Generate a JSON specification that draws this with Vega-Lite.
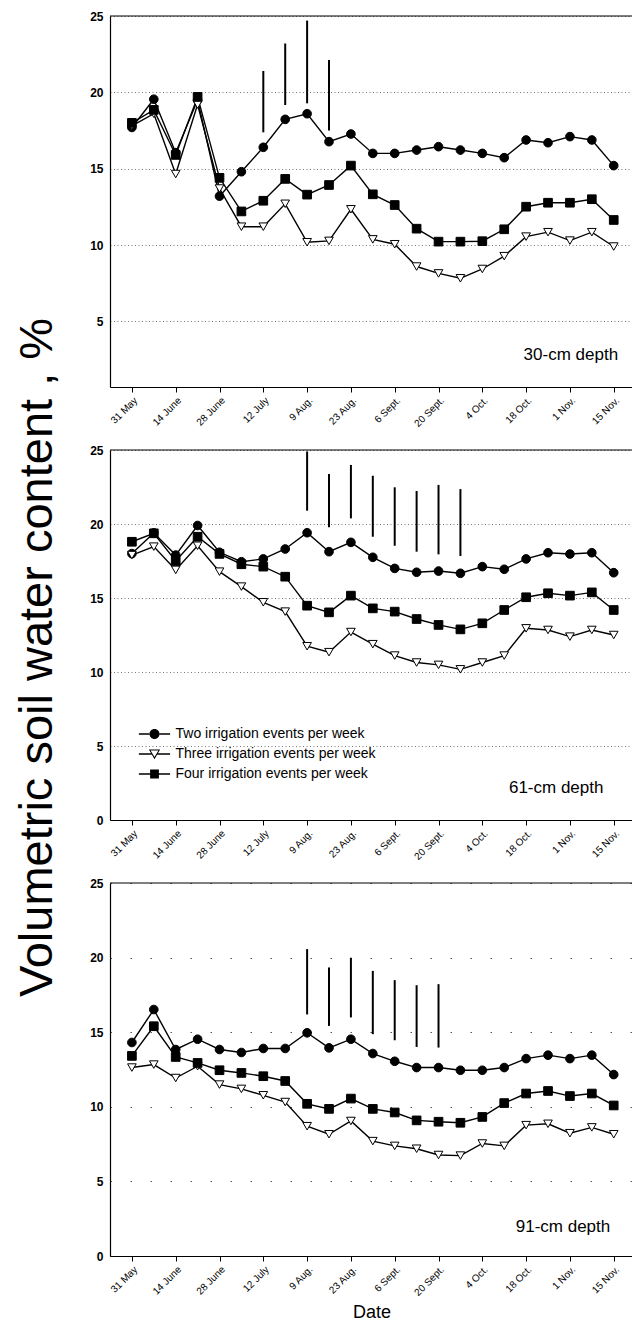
{
  "$schema": "https://vega.github.io/schema/vega-lite/v6.json",
  "padding": {"left": 12, "top": 10, "right": 0, "bottom": 0},
  "bounds": "flush",
  "spacing": 63,
  "config": {
    "font": "Liberation Sans",
    "view": {"stroke": null},
    "axis": {"domainColor": "black", "domainWidth": 1.2, "tickColor": "black", "labelColor": "black", "titleColor": "black", "labelFont": "Liberation Sans", "titleFont": "Liberation Sans", "titleFontWeight": "normal"},
    "axisX": {"labelAngle": -45, "labelFontSize": 10, "labelPadding": 3, "tickSize": 5, "grid": false, "labelOverlap": false, "labelFlush": false},
    "axisY": {"ticks": false, "labelPadding": 7, "labelFontSize": 12, "labelFontWeight": "bold", "grid": true, "gridColor": "#555"}
  },
  "resolve": {"scale": {"x": "independent", "y": "independent", "shape": "independent", "fill": "independent"}},
  "datasets": {
    "soil": [
      {"depth":"30","week":0,"series":"Two","vwc":17.7},{"depth":"30","week":1,"series":"Two","vwc":19.55},{"depth":"30","week":2,"series":"Two","vwc":16.05},{"depth":"30","week":3,"series":"Two","vwc":19.5},{"depth":"30","week":4,"series":"Two","vwc":13.2},{"depth":"30","week":5,"series":"Two","vwc":14.8},{"depth":"30","week":6,"series":"Two","vwc":16.4},{"depth":"30","week":7,"series":"Two","vwc":18.23},{"depth":"30","week":8,"series":"Two","vwc":18.6},{"depth":"30","week":9,"series":"Two","vwc":16.77},{"depth":"30","week":10,"series":"Two","vwc":17.27},{"depth":"30","week":11,"series":"Two","vwc":16.0},{"depth":"30","week":12,"series":"Two","vwc":16.0},{"depth":"30","week":13,"series":"Two","vwc":16.22},{"depth":"30","week":14,"series":"Two","vwc":16.44},{"depth":"30","week":15,"series":"Two","vwc":16.22},{"depth":"30","week":16,"series":"Two","vwc":16.0},{"depth":"30","week":17,"series":"Two","vwc":15.72},{"depth":"30","week":18,"series":"Two","vwc":16.88},{"depth":"30","week":19,"series":"Two","vwc":16.7},{"depth":"30","week":20,"series":"Two","vwc":17.1},{"depth":"30","week":21,"series":"Two","vwc":16.88},{"depth":"30","week":22,"series":"Two","vwc":15.2},
      {"depth":"30","week":0,"series":"Three","vwc":17.8},{"depth":"30","week":1,"series":"Three","vwc":18.6},{"depth":"30","week":2,"series":"Three","vwc":14.65},{"depth":"30","week":3,"series":"Three","vwc":19.2},{"depth":"30","week":4,"series":"Three","vwc":13.7},{"depth":"30","week":5,"series":"Three","vwc":11.2},{"depth":"30","week":6,"series":"Three","vwc":11.2},{"depth":"30","week":7,"series":"Three","vwc":12.7},{"depth":"30","week":8,"series":"Three","vwc":10.18},{"depth":"30","week":9,"series":"Three","vwc":10.27},{"depth":"30","week":10,"series":"Three","vwc":12.34},{"depth":"30","week":11,"series":"Three","vwc":10.37},{"depth":"30","week":12,"series":"Three","vwc":10.05},{"depth":"30","week":13,"series":"Three","vwc":8.59},{"depth":"30","week":14,"series":"Three","vwc":8.14},{"depth":"30","week":15,"series":"Three","vwc":7.82},{"depth":"30","week":16,"series":"Three","vwc":8.43},{"depth":"30","week":17,"series":"Three","vwc":9.27},{"depth":"30","week":18,"series":"Three","vwc":10.55},{"depth":"30","week":19,"series":"Three","vwc":10.84},{"depth":"30","week":20,"series":"Three","vwc":10.29},{"depth":"30","week":21,"series":"Three","vwc":10.84},{"depth":"30","week":22,"series":"Three","vwc":9.9},
      {"depth":"30","week":0,"series":"Four","vwc":18.0},{"depth":"30","week":1,"series":"Four","vwc":18.85},{"depth":"30","week":2,"series":"Four","vwc":15.9},{"depth":"30","week":3,"series":"Four","vwc":19.7},{"depth":"30","week":4,"series":"Four","vwc":14.4},{"depth":"30","week":5,"series":"Four","vwc":12.2},{"depth":"30","week":6,"series":"Four","vwc":12.9},{"depth":"30","week":7,"series":"Four","vwc":14.33},{"depth":"30","week":8,"series":"Four","vwc":13.3},{"depth":"30","week":9,"series":"Four","vwc":13.93},{"depth":"30","week":10,"series":"Four","vwc":15.2},{"depth":"30","week":11,"series":"Four","vwc":13.32},{"depth":"30","week":12,"series":"Four","vwc":12.62},{"depth":"30","week":13,"series":"Four","vwc":11.07},{"depth":"30","week":14,"series":"Four","vwc":10.22},{"depth":"30","week":15,"series":"Four","vwc":10.22},{"depth":"30","week":16,"series":"Four","vwc":10.25},{"depth":"30","week":17,"series":"Four","vwc":11.03},{"depth":"30","week":18,"series":"Four","vwc":12.51},{"depth":"30","week":19,"series":"Four","vwc":12.77},{"depth":"30","week":20,"series":"Four","vwc":12.77},{"depth":"30","week":21,"series":"Four","vwc":13.0},{"depth":"30","week":22,"series":"Four","vwc":11.64},
      {"depth":"61","week":0,"series":"Two","vwc":18.0},{"depth":"61","week":1,"series":"Two","vwc":19.4},{"depth":"61","week":2,"series":"Two","vwc":17.9},{"depth":"61","week":3,"series":"Two","vwc":19.9},{"depth":"61","week":4,"series":"Two","vwc":18.09},{"depth":"61","week":5,"series":"Two","vwc":17.45},{"depth":"61","week":6,"series":"Two","vwc":17.64},{"depth":"61","week":7,"series":"Two","vwc":18.31},{"depth":"61","week":8,"series":"Two","vwc":19.41},{"depth":"61","week":9,"series":"Two","vwc":18.13},{"depth":"61","week":10,"series":"Two","vwc":18.76},{"depth":"61","week":11,"series":"Two","vwc":17.75},{"depth":"61","week":12,"series":"Two","vwc":17.0},{"depth":"61","week":13,"series":"Two","vwc":16.74},{"depth":"61","week":14,"series":"Two","vwc":16.82},{"depth":"61","week":15,"series":"Two","vwc":16.67},{"depth":"61","week":16,"series":"Two","vwc":17.12},{"depth":"61","week":17,"series":"Two","vwc":16.94},{"depth":"61","week":18,"series":"Two","vwc":17.64},{"depth":"61","week":19,"series":"Two","vwc":18.06},{"depth":"61","week":20,"series":"Two","vwc":17.97},{"depth":"61","week":21,"series":"Two","vwc":18.06},{"depth":"61","week":22,"series":"Two","vwc":16.71},
      {"depth":"61","week":0,"series":"Three","vwc":17.9},{"depth":"61","week":1,"series":"Three","vwc":18.47},{"depth":"61","week":2,"series":"Three","vwc":16.9},{"depth":"61","week":3,"series":"Three","vwc":18.53},{"depth":"61","week":4,"series":"Three","vwc":16.78},{"depth":"61","week":5,"series":"Three","vwc":15.77},{"depth":"61","week":6,"series":"Three","vwc":14.71},{"depth":"61","week":7,"series":"Three","vwc":14.08},{"depth":"61","week":8,"series":"Three","vwc":11.74},{"depth":"61","week":9,"series":"Three","vwc":11.34},{"depth":"61","week":10,"series":"Three","vwc":12.7},{"depth":"61","week":11,"series":"Three","vwc":11.88},{"depth":"61","week":12,"series":"Three","vwc":11.11},{"depth":"61","week":13,"series":"Three","vwc":10.64},{"depth":"61","week":14,"series":"Three","vwc":10.48},{"depth":"61","week":15,"series":"Three","vwc":10.18},{"depth":"61","week":16,"series":"Three","vwc":10.64},{"depth":"61","week":17,"series":"Three","vwc":11.11},{"depth":"61","week":18,"series":"Three","vwc":12.95},{"depth":"61","week":19,"series":"Three","vwc":12.84},{"depth":"61","week":20,"series":"Three","vwc":12.39},{"depth":"61","week":21,"series":"Three","vwc":12.84},{"depth":"61","week":22,"series":"Three","vwc":12.5},
      {"depth":"61","week":0,"series":"Four","vwc":18.8},{"depth":"61","week":1,"series":"Four","vwc":19.37},{"depth":"61","week":2,"series":"Four","vwc":17.5},{"depth":"61","week":3,"series":"Four","vwc":19.14},{"depth":"61","week":4,"series":"Four","vwc":17.98},{"depth":"61","week":5,"series":"Four","vwc":17.28},{"depth":"61","week":6,"series":"Four","vwc":17.12},{"depth":"61","week":7,"series":"Four","vwc":16.44},{"depth":"61","week":8,"series":"Four","vwc":14.48},{"depth":"61","week":9,"series":"Four","vwc":14.03},{"depth":"61","week":10,"series":"Four","vwc":15.16},{"depth":"61","week":11,"series":"Four","vwc":14.3},{"depth":"61","week":12,"series":"Four","vwc":14.08},{"depth":"61","week":13,"series":"Four","vwc":13.58},{"depth":"61","week":14,"series":"Four","vwc":13.18},{"depth":"61","week":15,"series":"Four","vwc":12.88},{"depth":"61","week":16,"series":"Four","vwc":13.29},{"depth":"61","week":17,"series":"Four","vwc":14.19},{"depth":"61","week":18,"series":"Four","vwc":15.05},{"depth":"61","week":19,"series":"Four","vwc":15.32},{"depth":"61","week":20,"series":"Four","vwc":15.16},{"depth":"61","week":21,"series":"Four","vwc":15.38},{"depth":"61","week":22,"series":"Four","vwc":14.19},
      {"depth":"91","week":0,"series":"Two","vwc":14.31},{"depth":"91","week":1,"series":"Two","vwc":16.52},{"depth":"91","week":2,"series":"Two","vwc":13.84},{"depth":"91","week":3,"series":"Two","vwc":14.53},{"depth":"91","week":4,"series":"Two","vwc":13.84},{"depth":"91","week":5,"series":"Two","vwc":13.64},{"depth":"91","week":6,"series":"Two","vwc":13.91},{"depth":"91","week":7,"series":"Two","vwc":13.91},{"depth":"91","week":8,"series":"Two","vwc":14.96},{"depth":"91","week":9,"series":"Two","vwc":13.95},{"depth":"91","week":10,"series":"Two","vwc":14.53},{"depth":"91","week":11,"series":"Two","vwc":13.57},{"depth":"91","week":12,"series":"Two","vwc":13.05},{"depth":"91","week":13,"series":"Two","vwc":12.63},{"depth":"91","week":14,"series":"Two","vwc":12.63},{"depth":"91","week":15,"series":"Two","vwc":12.45},{"depth":"91","week":16,"series":"Two","vwc":12.45},{"depth":"91","week":17,"series":"Two","vwc":12.63},{"depth":"91","week":18,"series":"Two","vwc":13.23},{"depth":"91","week":19,"series":"Two","vwc":13.46},{"depth":"91","week":20,"series":"Two","vwc":13.23},{"depth":"91","week":21,"series":"Two","vwc":13.46},{"depth":"91","week":22,"series":"Two","vwc":12.16},
      {"depth":"91","week":0,"series":"Three","vwc":12.63},{"depth":"91","week":1,"series":"Three","vwc":12.83},{"depth":"91","week":2,"series":"Three","vwc":11.93},{"depth":"91","week":3,"series":"Three","vwc":12.72},{"depth":"91","week":4,"series":"Three","vwc":11.49},{"depth":"91","week":5,"series":"Three","vwc":11.2},{"depth":"91","week":6,"series":"Three","vwc":10.77},{"depth":"91","week":7,"series":"Three","vwc":10.32},{"depth":"91","week":8,"series":"Three","vwc":8.7},{"depth":"91","week":9,"series":"Three","vwc":8.16},{"depth":"91","week":10,"series":"Three","vwc":9.05},{"depth":"91","week":11,"series":"Three","vwc":7.7},{"depth":"91","week":12,"series":"Three","vwc":7.38},{"depth":"91","week":13,"series":"Three","vwc":7.19},{"depth":"91","week":14,"series":"Three","vwc":6.77},{"depth":"91","week":15,"series":"Three","vwc":6.73},{"depth":"91","week":16,"series":"Three","vwc":7.54},{"depth":"91","week":17,"series":"Three","vwc":7.38},{"depth":"91","week":18,"series":"Three","vwc":8.77},{"depth":"91","week":19,"series":"Three","vwc":8.86},{"depth":"91","week":20,"series":"Three","vwc":8.23},{"depth":"91","week":21,"series":"Three","vwc":8.62},{"depth":"91","week":22,"series":"Three","vwc":8.16},
      {"depth":"91","week":0,"series":"Four","vwc":13.41},{"depth":"91","week":1,"series":"Four","vwc":15.4},{"depth":"91","week":2,"series":"Four","vwc":13.34},{"depth":"91","week":3,"series":"Four","vwc":12.94},{"depth":"91","week":4,"series":"Four","vwc":12.45},{"depth":"91","week":5,"series":"Four","vwc":12.27},{"depth":"91","week":6,"series":"Four","vwc":12.05},{"depth":"91","week":7,"series":"Four","vwc":11.73},{"depth":"91","week":8,"series":"Four","vwc":10.2},{"depth":"91","week":9,"series":"Four","vwc":9.86},{"depth":"91","week":10,"series":"Four","vwc":10.55},{"depth":"91","week":11,"series":"Four","vwc":9.86},{"depth":"91","week":12,"series":"Four","vwc":9.62},{"depth":"91","week":13,"series":"Four","vwc":9.09},{"depth":"91","week":14,"series":"Four","vwc":9.0},{"depth":"91","week":15,"series":"Four","vwc":8.93},{"depth":"91","week":16,"series":"Four","vwc":9.32},{"depth":"91","week":17,"series":"Four","vwc":10.25},{"depth":"91","week":18,"series":"Four","vwc":10.89},{"depth":"91","week":19,"series":"Four","vwc":11.06},{"depth":"91","week":20,"series":"Four","vwc":10.72},{"depth":"91","week":21,"series":"Four","vwc":10.89},{"depth":"91","week":22,"series":"Four","vwc":10.09}
    ],
    "lsd": [
      {"depth":"30","week":6,"vwc":17.38,"hi":21.4},{"depth":"30","week":7,"vwc":19.17,"hi":23.2},{"depth":"30","week":8,"vwc":19.28,"hi":24.7},{"depth":"30","week":9,"vwc":17.5,"hi":22.12},
      {"depth":"61","week":8,"vwc":20.9,"hi":24.9},{"depth":"61","week":9,"vwc":19.78,"hi":23.38},{"depth":"61","week":10,"vwc":20.38,"hi":23.99},{"depth":"61","week":11,"vwc":19.14,"hi":23.26},{"depth":"61","week":12,"vwc":18.53,"hi":22.48},{"depth":"61","week":13,"vwc":18.13,"hi":22.23},{"depth":"61","week":14,"vwc":17.95,"hi":22.64},{"depth":"61","week":15,"vwc":17.84,"hi":22.36},
      {"depth":"91","week":8,"vwc":16.19,"hi":20.57},{"depth":"91","week":9,"vwc":15.42,"hi":19.34},{"depth":"91","week":10,"vwc":15.99,"hi":19.99},{"depth":"91","week":11,"vwc":14.87,"hi":19.11},{"depth":"91","week":12,"vwc":14.46,"hi":18.49},{"depth":"91","week":13,"vwc":14.01,"hi":18.15},{"depth":"91","week":14,"vwc":13.97,"hi":18.22}
    ]
  },
  "vconcat": [
    {
      "width": 523, "height": 371,
      "layer": [
        {"data": {"values": [{"edge": "top"}]}, "mark": {"type": "rule", "color": "black", "strokeWidth": 1.2},
         "encoding": {"y": {"datum": 25, "type": "quantitative", "scale": {"domain": [0.7, 25], "nice": false, "zero": false}, "title": null}}},
        {"data": {"name": "lsd"}, "transform": [{"filter": "datum.depth == '30'"}],
         "mark": {"type": "rule", "color": "black", "strokeWidth": 2},
         "encoding": {"x": {"field": "week", "type": "quantitative", "scale": {"domain": [-1, 22.88], "nice": false, "zero": false}, "title": null},
                      "y": {"field": "vwc", "type": "quantitative", "scale": {"domain": [0.7, 25], "nice": false, "zero": false}, "title": null},
                      "y2": {"field": "hi"}}},
        {"data": {"name": "soil"}, "transform": [{"filter": "datum.depth == '30'"}],
         "mark": {"type": "line", "color": "black", "strokeWidth": 1.4},
         "encoding": {"x": {"field": "week", "type": "quantitative", "scale": {"domain": [-1, 22.88], "nice": false, "zero": false}, "title": null},
                      "y": {"field": "vwc", "type": "quantitative", "scale": {"domain": [0.7, 25], "nice": false, "zero": false}, "title": null},
                      "detail": {"field": "series"}}},
        {"data": {"name": "soil"}, "transform": [{"filter": "datum.depth == '30'"}],
         "mark": {"type": "point", "filled": true, "stroke": "black", "strokeWidth": 1, "size": 75, "opacity": 1},
         "encoding": {
           "x": {"field": "week", "type": "quantitative", "scale": {"domain": [-1, 22.88], "nice": false, "zero": false}, "title": null,
                 "axis": {"values": [0,1,2,3,4,5,6,7,8,9,10,11,12,13,14,15,16,17,18,19,20,21,22], "labelExpr": "datum.value == 0 ? '31 May' : datum.value == 2 ? '14 June' : datum.value == 4 ? '28 June' : datum.value == 6 ? '12 July' : datum.value == 8 ? '9 Aug.' : datum.value == 10 ? '23 Aug.' : datum.value == 12 ? '6 Sept.' : datum.value == 14 ? '20 Sept.' : datum.value == 16 ? '4 Oct.' : datum.value == 18 ? '18 Oct.' : datum.value == 20 ? '1 Nov.' : datum.value == 22 ? '15 Nov.' : ''"}},
           "y": {"field": "vwc", "type": "quantitative", "scale": {"domain": [0.7, 25], "nice": false, "zero": false}, "title": null,
                 "axis": {"values": [5,10,15,20,25], "gridDash": [1, 2.5], "gridWidth": 0.8}},
           "shape": {"field": "series", "type": "nominal", "scale": {"domain": ["Two", "Three", "Four"], "range": ["circle", "triangle-down", "square"]}, "legend": null},
           "fill": {"field": "series", "type": "nominal", "scale": {"domain": ["Two", "Three", "Four"], "range": ["black", "white", "black"]}, "legend": null}}},
        {"data": {"values": [{"label": "30-cm depth"}]},
         "mark": {"type": "text", "align": "right", "baseline": "alphabetic", "fontSize": 17, "font": "Liberation Sans", "color": "black"},
         "encoding": {"x": {"datum": 22.2, "type": "quantitative", "scale": {"domain": [-1, 22.88], "nice": false, "zero": false}},
                      "y": {"datum": 2.47, "type": "quantitative", "scale": {"domain": [0.7, 25], "nice": false, "zero": false}},
                      "text": {"field": "label"}}}
      ]
    },
    {
      "width": 523, "height": 370,
      "resolve": {"scale": {"shape": "independent"}},
      "layer": [
        {"data": {"values": [{"edge": "top"}]}, "mark": {"type": "rule", "color": "black", "strokeWidth": 1.2},
         "encoding": {"y": {"datum": 25, "type": "quantitative", "scale": {"domain": [0, 25], "nice": false}, "title": "Volumetric soil water content , %"}}},
        {"data": {"name": "lsd"}, "transform": [{"filter": "datum.depth == '61'"}],
         "mark": {"type": "rule", "color": "black", "strokeWidth": 2},
         "encoding": {"x": {"field": "week", "type": "quantitative", "scale": {"domain": [-1, 22.88], "nice": false, "zero": false}, "title": null},
                      "y": {"field": "vwc", "type": "quantitative", "scale": {"domain": [0, 25], "nice": false}, "title": "Volumetric soil water content , %"},
                      "y2": {"field": "hi"}}},
        {"data": {"name": "soil"}, "transform": [{"filter": "datum.depth == '61'"}],
         "mark": {"type": "line", "color": "black", "strokeWidth": 1.4},
         "encoding": {"x": {"field": "week", "type": "quantitative", "scale": {"domain": [-1, 22.88], "nice": false, "zero": false}, "title": null},
                      "y": {"field": "vwc", "type": "quantitative", "scale": {"domain": [0, 25], "nice": false}, "title": "Volumetric soil water content , %"},
                      "detail": {"field": "series"}}},
        {"data": {"name": "soil"}, "transform": [{"filter": "datum.depth == '61'"}],
         "mark": {"type": "point", "filled": true, "stroke": "black", "strokeWidth": 1, "size": 75, "opacity": 1},
         "encoding": {
           "x": {"field": "week", "type": "quantitative", "scale": {"domain": [-1, 22.88], "nice": false, "zero": false}, "title": null,
                 "axis": {"values": [0,1,2,3,4,5,6,7,8,9,10,11,12,13,14,15,16,17,18,19,20,21,22], "labelExpr": "datum.value == 0 ? '31 May' : datum.value == 2 ? '14 June' : datum.value == 4 ? '28 June' : datum.value == 6 ? '12 July' : datum.value == 8 ? '9 Aug.' : datum.value == 10 ? '23 Aug.' : datum.value == 12 ? '6 Sept.' : datum.value == 14 ? '20 Sept.' : datum.value == 16 ? '4 Oct.' : datum.value == 18 ? '18 Oct.' : datum.value == 20 ? '1 Nov.' : datum.value == 22 ? '15 Nov.' : ''"}},
           "y": {"field": "vwc", "type": "quantitative", "scale": {"domain": [0, 25], "nice": false}, "title": "Volumetric soil water content , %",
                 "axis": {"values": [0,5,10,15,20,25], "gridDash": [1, 2.5], "gridWidth": 0.8,
                          "titleFontSize": 47, "titleAngle": 270, "titleAlign": "center", "titleBaseline": "alphabetic", "titleX": -59, "titleY": 207}},
           "shape": {"field": "series", "type": "nominal", "scale": {"domain": ["Two", "Three", "Four"], "range": ["circle", "triangle-down", "square"]}, "legend": null},
           "fill": {"field": "series", "type": "nominal", "scale": {"domain": ["Two", "Three", "Four"], "range": ["black", "white", "black"]}, "legend": null}}},
        {"data": {"name": "soil"}, "transform": [{"filter": "datum.depth == '61' && datum.week > 100"}],
         "mark": {"type": "point", "filled": true, "color": "black", "fill": "black", "opacity": 1},
         "encoding": {
           "x": {"field": "week", "type": "quantitative", "scale": {"domain": [-1, 22.88], "nice": false, "zero": false}, "title": null},
           "y": {"field": "vwc", "type": "quantitative", "scale": {"domain": [0, 25], "nice": false}, "title": "Volumetric soil water content , %"},
           "shape": {"field": "series", "type": "nominal",
                     "scale": {"domain": ["Two", "Three", "Four"], "range": [
                       "M-3.9,-0.17H-1.2V0.17H-3.9ZM1.2,-0.17H3.9V0.17H1.2ZM-1.25,0A1.25,1.25,0,1,0,1.25,0A1.25,1.25,0,1,0,-1.25,0Z",
                       "M-3.9,-0.17H-0.72V0.17H-3.9ZM0.72,-0.17H3.9V0.17H0.72ZM-1.4,-1.15L1.4,-1.15L0,1.3ZM-0.98,-0.9L0,0.78L0.98,-0.9Z",
                       "M-3.9,-0.17H-1.1V0.17H-3.9ZM1.1,-0.17H3.9V0.17H1.1ZM-1.1,-1.1H1.1V1.1H-1.1Z"]},
                     "legend": {"orient": "none", "legendX": 37.5, "legendY": 277, "title": null, "padding": 0, "symbolSize": 64, "symbolFillColor": "black", "symbolOpacity": 1, "symbolStrokeWidth": 0,
                                "labelFontSize": 14, "labelFont": "Liberation Sans", "labelColor": "black", "labelOffset": 14, "labelLimit": 400, "rowPadding": 6,
                                "labelExpr": "datum.label + ' irrigation events per week'"}}}},
        {"data": {"values": [{"label": "61-cm depth"}]},
         "mark": {"type": "text", "align": "right", "baseline": "alphabetic", "fontSize": 17, "font": "Liberation Sans", "color": "black"},
         "encoding": {"x": {"datum": 21.53, "type": "quantitative", "scale": {"domain": [-1, 22.88], "nice": false, "zero": false}},
                      "y": {"datum": 1.82, "type": "quantitative", "scale": {"domain": [0, 25], "nice": false}},
                      "text": {"field": "label"}}}
      ]
    },
    {
      "width": 523, "height": 373,
      "layer": [
        {"data": {"values": [{"edge": "top"}]}, "mark": {"type": "rule", "color": "black", "strokeWidth": 1.2},
         "encoding": {"y": {"datum": 25, "type": "quantitative", "scale": {"domain": [0, 25], "nice": false}, "title": null}}},
        {"data": {"name": "lsd"}, "transform": [{"filter": "datum.depth == '91'"}],
         "mark": {"type": "rule", "color": "black", "strokeWidth": 2},
         "encoding": {"x": {"field": "week", "type": "quantitative", "scale": {"domain": [-1, 22.88], "nice": false, "zero": false}, "title": "Date"},
                      "y": {"field": "vwc", "type": "quantitative", "scale": {"domain": [0, 25], "nice": false}, "title": null},
                      "y2": {"field": "hi"}}},
        {"data": {"name": "soil"}, "transform": [{"filter": "datum.depth == '91'"}],
         "mark": {"type": "line", "color": "black", "strokeWidth": 1.4},
         "encoding": {"x": {"field": "week", "type": "quantitative", "scale": {"domain": [-1, 22.88], "nice": false, "zero": false}, "title": "Date"},
                      "y": {"field": "vwc", "type": "quantitative", "scale": {"domain": [0, 25], "nice": false}, "title": null},
                      "detail": {"field": "series"}}},
        {"data": {"name": "soil"}, "transform": [{"filter": "datum.depth == '91'"}],
         "mark": {"type": "point", "filled": true, "stroke": "black", "strokeWidth": 1, "size": 75, "opacity": 1},
         "encoding": {
           "x": {"field": "week", "type": "quantitative", "scale": {"domain": [-1, 22.88], "nice": false, "zero": false}, "title": "Date",
                 "axis": {"values": [0,1,2,3,4,5,6,7,8,9,10,11,12,13,14,15,16,17,18,19,20,21,22], "labelExpr": "datum.value == 0 ? '31 May' : datum.value == 2 ? '14 June' : datum.value == 4 ? '28 June' : datum.value == 6 ? '12 July' : datum.value == 8 ? '9 Aug.' : datum.value == 10 ? '23 Aug.' : datum.value == 12 ? '6 Sept.' : datum.value == 14 ? '20 Sept.' : datum.value == 16 ? '4 Oct.' : datum.value == 18 ? '18 Oct.' : datum.value == 20 ? '1 Nov.' : datum.value == 22 ? '15 Nov.' : ''", "titleFontSize": 18, "titlePadding": 6}},
           "y": {"field": "vwc", "type": "quantitative", "scale": {"domain": [0, 25], "nice": false}, "title": null,
                 "axis": {"values": [0,5,10,15,20,25], "gridDash": [1.5, 18.5], "gridWidth": 1}},
           "shape": {"field": "series", "type": "nominal", "scale": {"domain": ["Two", "Three", "Four"], "range": ["circle", "triangle-down", "square"]}, "legend": null},
           "fill": {"field": "series", "type": "nominal", "scale": {"domain": ["Two", "Three", "Four"], "range": ["black", "white", "black"]}, "legend": null}}},
        {"data": {"values": [{"label": "91-cm depth"}]},
         "mark": {"type": "text", "align": "right", "baseline": "alphabetic", "fontSize": 17, "font": "Liberation Sans", "color": "black"},
         "encoding": {"x": {"datum": 21.84, "type": "quantitative", "scale": {"domain": [-1, 22.88], "nice": false, "zero": false}},
                      "y": {"datum": 1.61, "type": "quantitative", "scale": {"domain": [0, 25], "nice": false}},
                      "text": {"field": "label"}}}
      ]
    }
  ]
}
